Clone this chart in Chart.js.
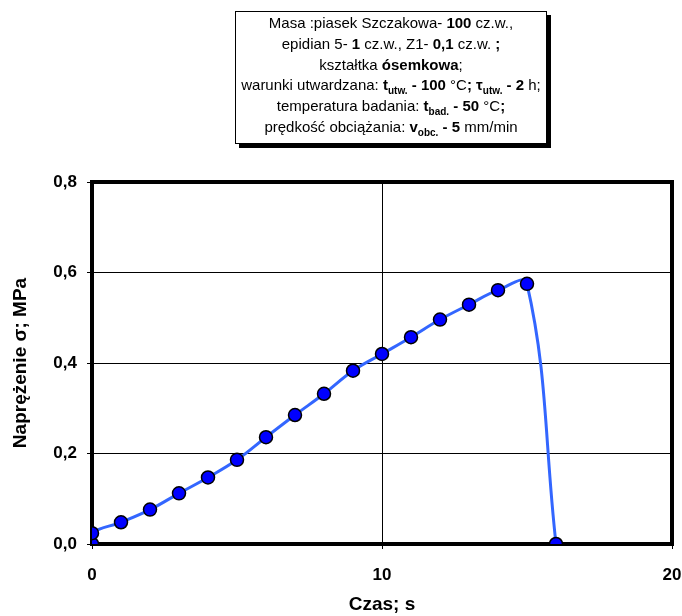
<!DOCTYPE html>
<html lang="pl">
<head>
    <meta charset="UTF-8">
    <title>Naprężenie σ w funkcji czasu</title>
    <script src="https://cdn.jsdelivr.net/npm/chart.js"></script>
    <style>
        body {
            margin: 0;
            background: #ffffff;
        }

        #wrap {
            position: relative;
            width: 682px;
            height: 616px;
        }

        /* description box above the chart */
        #info {
            position: absolute;
            left: 235px;
            top: 11px;
            width: 312px;
            height: 133px;
            border: 1px solid #000;
            box-shadow: 4px 4px 0 #000;
            background: #fff;
            font-family: "Liberation Sans", Arial, sans-serif;
            font-size: 15px;
            line-height: 20.8px;
            text-align: center;
            white-space: nowrap;
            padding-top: 1px;
            box-sizing: border-box;
            color: #000;
        }

        #info sub {
            font-size: 10px;
            line-height: 0;
        }
    </style>
</head>
<body>
<div id="wrap">
    <canvas id="chart" width="682" height="616"></canvas>
    <div id="info">
        Masa :piasek Szczakowa- <b>100</b> cz.w.,<br>
        epidian 5- <b>1</b> cz.w., Z1- <b>0,1</b> cz.w. <b>;</b><br>
        kształtka <b>ósemkowa</b>;<br>
        warunki utwardzana: <b>t<sub>utw.</sub> - 100</b> °C<b>; τ<sub>utw.</sub> - 2</b> h;<br>
        temperatura badania: <b>t<sub>bad.</sub> - 50</b> °C<b>;</b><br>
        prędkość obciążania: <b>v<sub>obc.</sub> - 5</b> mm/min
    </div>
</div>

<script>
    // time [s] and stress [MPa]
    const czas = [0, 0, 1, 2, 3, 4, 5, 6, 7, 8, 9, 10, 11, 12, 13, 14, 15, 16];
    const naprezenie = [0, 0.024, 0.048, 0.076, 0.112, 0.147, 0.186, 0.236, 0.285, 0.332, 0.383, 0.42, 0.457, 0.496, 0.529, 0.561, 0.575, 0];

    const xTicks = [0, 10, 20];
    const yTicks = [0, 0.2, 0.4, 0.6, 0.8];

    const points = czas.map((x, i) => ({ x: x, y: naprezenie[i] }));

    const tickFont = { family: '"Liberation Sans", Arial, sans-serif', size: 17, weight: 'bold' };
    const titleFont = { family: '"Liberation Sans", Arial, sans-serif', size: 19, weight: 'bold' };

    // thick frame around the plot area
    const frame = {
        id: 'frame',
        beforeDatasetsDraw(chart) {
            const a = chart.chartArea;
            const ctx = chart.ctx;
            ctx.save();
            ctx.strokeStyle = '#000';
            ctx.lineWidth = 4;
            ctx.strokeRect(a.left, a.top, a.right - a.left, a.bottom - a.top);
            ctx.restore();
        }
    };

    new Chart(document.getElementById('chart'), {
        type: 'scatter',
        data: {
            datasets: [{
                data: points,
                showLine: true,
                tension: 0.4,
                borderColor: '#3366ff',
                borderWidth: 3,
                pointRadius: 6.5,
                pointBackgroundColor: '#0000ff',
                pointBorderColor: '#000',
                pointBorderWidth: 1.5
            }]
        },
        options: {
            responsive: false,
            animation: false,
            layout: { padding: { top: 182, right: 10, left: 0, bottom: 0 } },
            plugins: {
                legend: { display: false },
                tooltip: { enabled: false }
            },
            scales: {
                x: {
                    type: 'linear',
                    min: 0,
                    max: 20,
                    afterBuildTicks: s => { s.ticks = xTicks.map(v => ({ value: v })); },
                    afterFit: s => { s.height = 72; s.paddingLeft = 0; s.paddingRight = 0; },
                    grid: { color: '#000', lineWidth: 1, tickLength: 5, tickColor: '#000' },
                    border: { display: false },
                    ticks: { color: '#000', font: tickFont, padding: 16, maxRotation: 0 },
                    title: { display: true, text: 'Czas; s', color: '#000', font: titleFont, padding: { top: 0, bottom: 0 } }
                },
                y: {
                    min: 0,
                    max: 0.8,
                    afterBuildTicks: s => { s.ticks = yTicks.map(v => ({ value: v })); },
                    afterFit: s => { s.width = 92; s.paddingTop = 0; s.paddingBottom = 0; },
                    grid: { color: '#000', lineWidth: 1, tickLength: 5, tickColor: '#000' },
                    border: { display: false },
                    ticks: {
                        color: '#000',
                        font: tickFont,
                        padding: 10,
                        callback: v => v.toFixed(1).replace('.', ',')
                    },
                    title: { display: true, text: 'Naprężenie σ; MPa', color: '#000', font: titleFont, padding: { top: 9, bottom: 0 } }
                }
            }
        },
        plugins: [frame]
    });
</script>
</body>
</html>
